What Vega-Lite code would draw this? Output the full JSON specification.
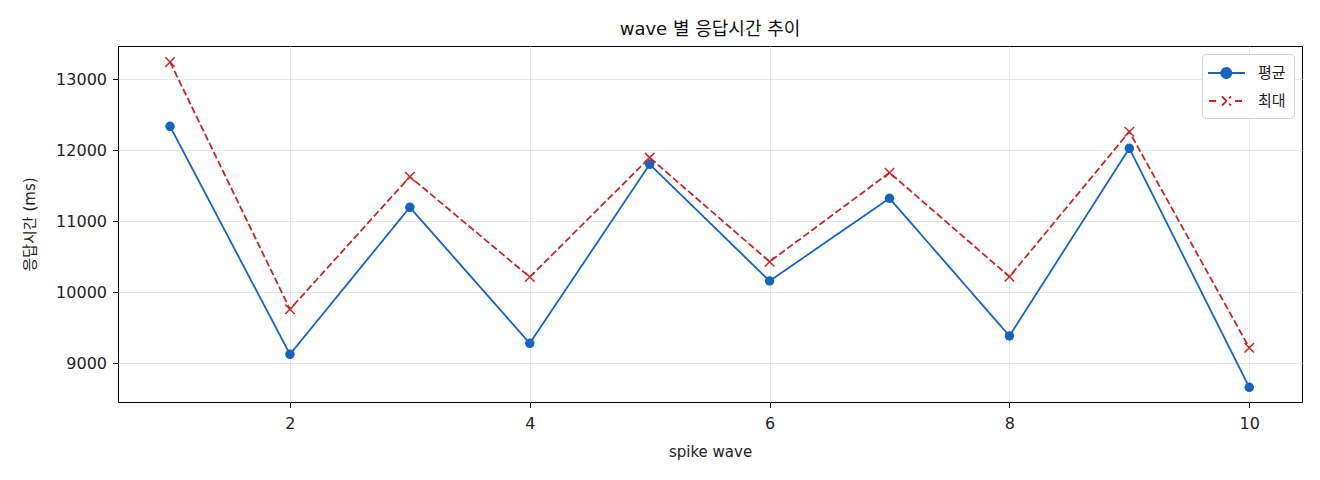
{
  "$schema": "https://vega.github.io/schema/vega-lite/v6.json",
  "autosize": {"type": "none"},
  "padding": {"left": 118, "top": 46, "right": 18, "bottom": 78},
  "width": 1184,
  "height": 356,
  "background": "white",
  "title": {"text": "wave 별 응답시간 추이", "font": "DejaVu Sans, Noto Sans CJK KR", "fontSize": 18, "fontWeight": "normal", "color": "#111111", "anchor": "middle", "offset": 7},
  "config": {
    "font": "DejaVu Sans, Noto Sans CJK KR",
    "view": {"stroke": "#000000", "strokeWidth": 1},
    "axis": {
      "domain": false,
      "grid": true,
      "gridColor": "#e3e3e3",
      "gridWidth": 0.9,
      "tickColor": "#000000",
      "tickSize": 5.5,
      "tickWidth": 1,
      "labelFontSize": 16,
      "labelColor": "#222222",
      "labelFont": "DejaVu Sans, Noto Sans CJK KR",
      "titleFont": "DejaVu Sans, Noto Sans CJK KR",
      "titleFontSize": 15,
      "titleFontWeight": "normal",
      "titleColor": "#222222"
    }
  },
  "data": {"values": [
    {"wave": 1, "series": "평균", "ms": 12338},
    {"wave": 2, "series": "평균", "ms": 9127},
    {"wave": 3, "series": "평균", "ms": 11197},
    {"wave": 4, "series": "평균", "ms": 9282},
    {"wave": 5, "series": "평균", "ms": 11803},
    {"wave": 6, "series": "평균", "ms": 10159},
    {"wave": 7, "series": "평균", "ms": 11324},
    {"wave": 8, "series": "평균", "ms": 9385},
    {"wave": 9, "series": "평균", "ms": 12028},
    {"wave": 10, "series": "평균", "ms": 8662},
    {"wave": 1, "series": "최대", "ms": 13244},
    {"wave": 2, "series": "최대", "ms": 9761},
    {"wave": 3, "series": "최대", "ms": 11628},
    {"wave": 4, "series": "최대", "ms": 10215},
    {"wave": 5, "series": "최대", "ms": 11897},
    {"wave": 6, "series": "최대", "ms": 10431},
    {"wave": 7, "series": "최대", "ms": 11685},
    {"wave": 8, "series": "최대", "ms": 10220},
    {"wave": 9, "series": "최대", "ms": 12262},
    {"wave": 10, "series": "최대", "ms": 9220}
  ]},
  "encoding": {
    "x": {"field": "wave", "type": "quantitative", "scale": {"domain": [0.566, 10.44], "nice": false, "zero": false},
          "axis": {"title": "spike wave", "values": [2, 4, 6, 8, 10], "labelPadding": 8, "titlePadding": 13}},
    "y": {"field": "ms", "type": "quantitative", "scale": {"domain": [8455, 13469], "nice": false, "zero": false},
          "axis": {"title": "응답시간 (ms)", "values": [9000, 10000, 11000, 12000, 13000], "format": "d", "labelPadding": 6, "titlePadding": 18}}
  },
  "layer": [
    {
      "mark": {"type": "line", "strokeWidth": 1.8},
      "encoding": {
        "color": {"field": "series", "type": "nominal",
          "scale": {"domain": ["평균", "최대"], "range": ["#1565c0", "#c62828"]},
          "legend": {
            "title": null, "orient": "top-right", "offset": 8,
            "fillColor": "white", "strokeColor": "#d4d4d4", "cornerRadius": 4,
            "padding": 8, "rowPadding": 8, "symbolSize": 400, "labelOffset": 26,
            "labelFontSize": 15, "labelFont": "Noto Sans CJK KR", "labelColor": "#222222",
            "symbolStrokeWidth": 1.8,
            "encode": {"symbols": {"update": {
              "shape": {"signal": "datum.value === '평균' ? 'M-1.3,0H2.4M1.03,0A0.5,0.5,0,1,1,0.03,0A0.5,0.5,0,1,1,1.03,0' : 'M-1.2,0H-0.3M1.4,0H2.3M0.1,-0.45L1,0.45M0.1,0.45L1,-0.45'"},
              "fill": {"signal": "datum.value === '평균' ? '#1565c0' : 'transparent'"},
              "strokeDash": {"value": []},
              "opacity": {"value": 1}
            }}}
          }},
        "strokeDash": {"field": "series", "type": "nominal",
          "scale": {"domain": ["평균", "최대"], "range": [[1, 0], [7, 3]]}, "legend": null}
      }
    },
    {
      "transform": [{"filter": "datum.series === '평균'"}],
      "mark": {"type": "point", "shape": "circle", "filled": true, "color": "#1565c0", "size": 90, "opacity": 1}
    },
    {
      "transform": [{"filter": "datum.series === '최대'"}],
      "mark": {"type": "point", "shape": "M-1,-1L1,1M-1,1L1,-1", "filled": false, "color": "#c62828", "size": 90, "strokeWidth": 1.5, "opacity": 1}
    }
  ]
}
